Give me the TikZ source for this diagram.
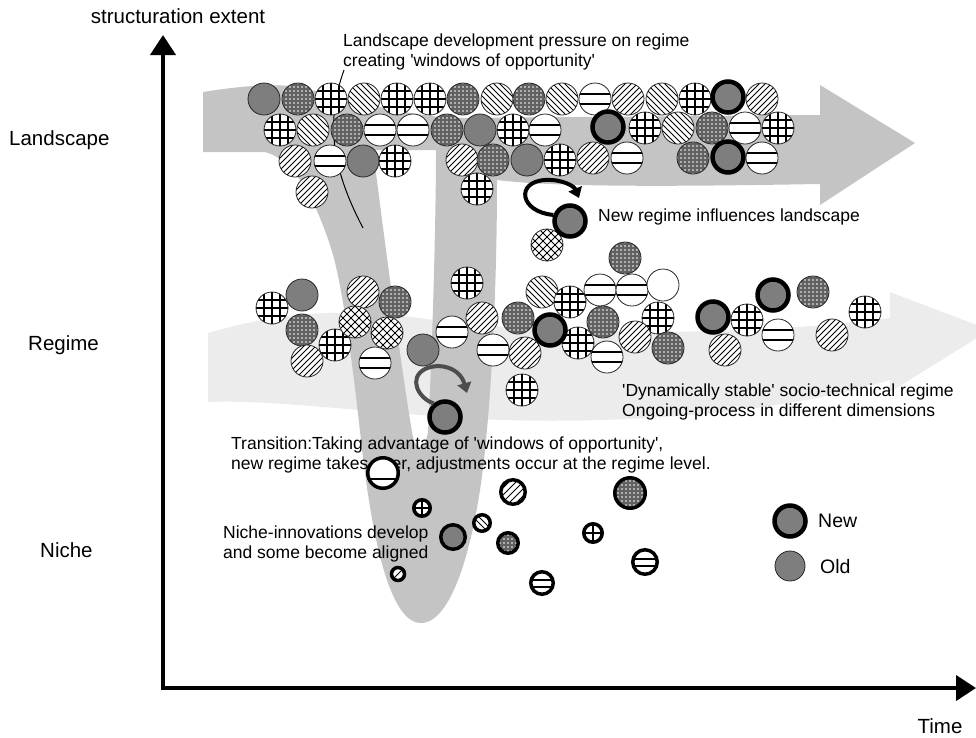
\documentclass[tikz,border=0pt]{standalone}
\usepackage{fontspec}
\setmainfont{Liberation Sans}
\usetikzlibrary{arrows.meta}
\definecolor{bandL}{HTML}{C4C4C4}
\definecolor{bandR}{HTML}{ECECEC}
\definecolor{oldg}{HTML}{7E7E7E}
\definecolor{arrg}{HTML}{4D4D4D}
\newcommand\PatH[1]{\begin{scope}[shift={(path picture bounding box.center)}]\foreach \q in {#1}{\draw[patline] (-30,\q) -- (30,\q);}\end{scope}}
\newcommand\PatG[1]{\begin{scope}[shift={(path picture bounding box.center)}]\foreach \q in {#1}{\draw[patline] (-30,\q) -- (30,\q);\draw[patline] (\q,-30) -- (\q,30);}\end{scope}}
\newcommand\PatNE[1]{\begin{scope}[shift={(path picture bounding box.center)}]\foreach \q in {#1}{\draw[patthin] ({\q-30},30) -- ({\q+30},-30);}\end{scope}}
\newcommand\PatNW[1]{\begin{scope}[shift={(path picture bounding box.center)}]\foreach \q in {#1}{\draw[patthin] ({\q-30},-30) -- ({\q+30},30);}\end{scope}}
\newcommand\PatDots{\begin{scope}[shift={(path picture bounding box.center)}]\fill[black!62] (-30,-30) rectangle (30,30);\foreach \i in {-16,-12,...,16}{\foreach \j in {-16,-12,...,16}{\fill[white] (\i,\j) circle[radius=0.8];}}\end{scope}}
\tikzset{
  patline/.style={line width=1.3pt, black},
  patthin/.style={line width=1pt, black},
  cb/.style={circle, inner sep=0pt, minimum size=32pt, draw=black!85, line width=0.8pt, fill=white},
  cOld/.style={cb, fill=oldg},
  cEM/.style={cb},
  cHL/.style={cb, path picture={\PatH{-5,5}}},
  cGR/.style={cb, path picture={\PatG{-8,0,8}}},
  cNE/.style={cb, path picture={\PatNE{-24,-18,...,24}}},
  cNW/.style={cb, path picture={\PatNW{-24,-18,...,24}}},
  cDG/.style={cb, path picture={\PatNE{-24,-16,...,24}\PatNW{-24,-16,...,24}}},
  cDT/.style={cb, path picture={\PatDots}},
  cNew/.style={circle, inner sep=0pt, minimum size=31pt, draw=black, line width=4.5pt, fill=oldg},
  nb/.style={circle, inner sep=0pt, draw=black, line width=3.5pt, fill=white, minimum size=#1},
  txt/.style={font=\fontsize{17.5}{19.5}\selectfont, inner sep=0pt, anchor=west, align=left},
  lab/.style={font=\fontsize{20.5}{24}\selectfont, inner sep=0pt},
  axis/.style={line width=4pt, -{Triangle[width=25pt,length=20pt]}},
  loopL/.style={line width=4pt, black, -{Triangle[width=14pt,length=10pt]}},
  loopR/.style={line width=4pt, arrg, -{Triangle[width=14pt,length=10pt]}}
}
\begin{document}
\begin{tikzpicture}[x=1pt,y=-1pt]
\useasboundingbox (0,0) rectangle (976,737);
% regime band
\fill[bandR] (208,333) .. controls (280,312) and (340,308) .. (420,318)
  .. controls (560,338) and (760,335) .. (890,318) -- (890,292) -- (990,330) -- (890,392) -- (890,380)
  .. controls (760,420) and (560,428) .. (420,415) .. controls (330,408) and (260,400) .. (208,402) -- cycle;
% landscape band and transition V
\fill[bandL, even odd rule]
 (203,92) .. controls (240,86) and (270,84) .. (290,86)
 .. controls (330,92) and (380,112) .. (450,118)
 -- (820,115) -- (820,85) -- (915,143) -- (820,205) -- (820,184)
 .. controls (700,186) and (560,188) .. (497,180)
 .. controls (497,280) and (492,380) .. (486,440)
 .. controls (478,530) and (455,623) .. (421,623)
 .. controls (390,623) and (372,540) .. (361,440)
 .. controls (352,360) and (342,280) .. (330,245)
 .. controls (315,200) and (295,160) .. (265,152)
 -- (203,152) -- cycle
 (373,150) .. controls (382,220) and (400,360) .. (412,432)
 .. controls (415,452) and (425,452) .. (428,432)
 .. controls (432,360) and (436,220) .. (436,150) -- cycle;
% axes
\coordinate (O) at (163,688);
\coordinate (Ytop) at (163,35);
\coordinate (Xend) at (976,688);
\draw[axis] ([yshift=-2pt]O) -- (Ytop);
\draw[axis] ([xshift=-2pt]O) -- (Xend);
\node[lab] (yl) at (178,16) {structuration extent};
\node[lab] (xl) at (940,726) {Time};
\node[lab, anchor=west] (lL) at (9,140) {Landscape};
\node[lab, anchor=west] (lR) at (28,345) {Regime};
\node[lab, anchor=west] (lN) at (40,550) {Niche};
% texts
\node[txt] (tLand) at (343,52) {Landscape development pressure on regime\\creating \textquotesingle windows of opportunity\textquotesingle};
\coordinate (ptrEnd) at (363,228);
\draw[line width=1pt] ([xshift=1pt]tLand.south west) .. controls (322,130) and (338,180) .. (ptrEnd);
\node[txt] (tNewReg) at (598,217) {New regime influences landscape};
\node[txt] (tDyn) at (622,402) {\textquotesingle Dynamically stable\textquotesingle\ socio-technical regime\\Ongoing-process in different dimensions};
\node[txt] (tTrans) at (231,455) {Transition:Taking advantage of \textquotesingle windows of opportunity\textquotesingle,\\new regime takes over, adjustments occur at the regime level.};
\node[txt] (tNiche) at (223,544) {Niche-innovations develop\\and some become aligned};
% landscape circles
\foreach [count=\i] \x/\y/\s in {264/99/cOld, 298/99/cDT, 331/99/cGR, 364/99/cNW, 397/99/cGR, 430/99/cGR, 463/99/cDT, 497/99/cNW, 529/99/cDT, 562/99/cNW, 595/99/cHL, 628/99/cNE, 662/99/cNW, 695/99/cGR, 762/99/cNE,
 280/130/cGR, 313/130/cNW, 347/130/cDT, 380/130/cHL, 413/130/cHL, 447/130/cDT, 480/130/cOld, 513/130/cGR, 545/130/cHL, 645/128/cGR, 678/128/cNW, 712/128/cDT, 745/128/cHL, 778/128/cGR,
 295/161/cNE, 330/161/cHL, 363/161/cOld, 395/161/cGR, 462/160/cNE, 493/160/cDT, 527/160/cOld, 560/160/cGR, 593/158/cNE, 627/158/cHL, 693/158/cDT, 762/158/cHL,
 312/192/cNE, 477/189/cGR, 547/245/cDG}
  \node[\s] (L\i) at (\x,\y) {};
\foreach [count=\i] \x/\y in {728/97, 608/127, 728/157, 570/221}
  \node[cNew] (nL\i) at (\x,\y) {};
% regime circles
\foreach [count=\i] \x/\y/\s in {272/308/cGR, 302/295/cOld, 302/330/cDT, 335/345/cGR, 307/361/cNE, 363/292/cNE, 395/302/cDT, 355/322/cDG, 387/333/cDG, 375/363/cHL, 423/350/cOld, 467/283/cGR, 452/332/cHL, 482/318/cNE, 493/350/cHL, 518/318/cDT, 525/353/cNE, 542/292/cNW, 570/302/cGR, 578/343/cGR, 600/290/cHL, 632/290/cHL, 663/285/cEM, 625/258/cDT, 603/322/cDT, 658/318/cGR, 635/337/cNE, 668/348/cDT, 607/357/cHL, 522/390/cGR, 725/350/cNE, 747/320/cGR, 778/335/cHL, 813/292/cDT, 832/335/cNE, 865/312/cGR}
  \node[\s] (R\i) at (\x,\y) {};
\foreach [count=\i] \x/\y in {550/330, 713/317, 773/295, 445/417}
  \node[cNew] (nR\i) at (\x,\y) {};
% niche circles
\node[nb=30.5, path picture={\PatH{6}}] (N1) at (383,473) {};
\node[nb=24.5, path picture={\PatNE{-14,-7,0,7,14}}] (N2) at (513,492) {};
\node[nb=30.5, path picture={\PatDots}] (N3) at (630,493) {};
\node[nb=16.5, path picture={\PatG{0}}] (N4) at (422,508) {};
\node[nb=16.5, path picture={\PatNW{-3,3}}] (N5) at (482,523) {};
\node[nb=24.5, fill=oldg] (N6) at (453,537) {};
\node[nb=20.5, path picture={\PatDots}] (N7) at (508,543) {};
\node[nb=18.5, path picture={\PatG{0}}] (N8) at (593,533) {};
\node[nb=24.5, path picture={\PatH{-3,4}}] (N9) at (645,562) {};
\node[nb=13, path picture={\PatNE{0}}] (N10) at (398,574) {};
\node[nb=22.5, path picture={\PatH{-3,4}}] (N11) at (542,583) {};
% loop arrows
\draw[loopL] (nL4.160) .. controls (520,212) and (515,182) .. (545,180) .. controls (562,179) and (574,186) .. (579,198);
\draw[loopR] (nR4.130) .. controls (418,398) and (408,378) .. (425,369) .. controls (440,362) and (460,368) .. (467,393);
% legend
\node[cNew] (legNew) at (790,521) {};
\node[cOld, minimum size=30pt] (legOld) at (790,566) {};
\node[lab, anchor=west, font=\fontsize{19.5}{22}\selectfont] (tNew) at (818,521) {New};
\node[lab, anchor=west, font=\fontsize{19.5}{22}\selectfont] (tOld) at (820,567) {Old};
\end{tikzpicture}
\end{document}
